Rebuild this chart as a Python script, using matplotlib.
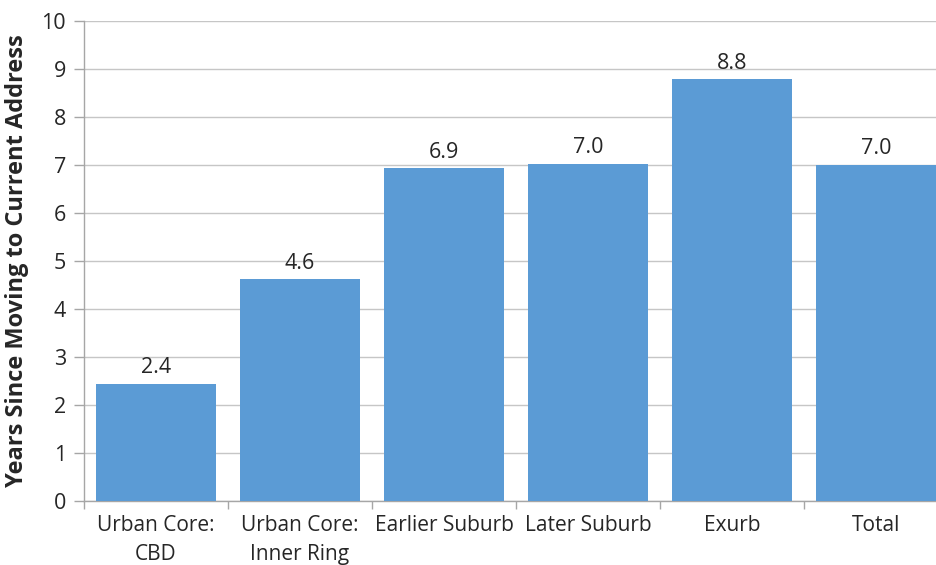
import matplotlib
matplotlib.use("Agg")
import matplotlib.pyplot as plt

categories = ["Urban Core:\nCBD", "Urban Core:\nInner Ring", "Earlier Suburb",
              "Later Suburb", "Exurb", "Total"]
values = [2.44, 4.62, 6.93, 7.03, 8.79, 7.00]
yticks = list(range(0, 11))

plt.rcParams['font.family'] = ['Open Sans', 'DejaVu Sans']
TXT = "#262626"

W, H = 936, 565
fig = plt.figure(figsize=(W / 100, H / 100), dpi=100)
ax = fig.add_axes([84 / W, 1 - 501 / H, (948 - 84) / W, (501 - 21) / H])

x = list(range(len(categories)))
bars = ax.bar(x, values, width=0.83, color="#5B9BD5", zorder=3)
for xi, v in zip(x, values):
    ax.text(xi, v + 0.22, f"{v:.1f}", ha="center", va="baseline", fontsize=15.5, color=TXT)

ax.set_xlim(-0.5, len(categories) - 0.5)
ax.set_ylim(0, 10)
ax.set_yticks(yticks)
ax.set_yticklabels([str(t) for t in yticks], fontsize=15.5, color=TXT)
ax.yaxis.grid(True, color="#c6c6c6", linewidth=1.0, zorder=0)
ax.set_axisbelow(True)

ax.set_xticks(x)
ax.set_xticklabels(categories, fontsize=15, color=TXT, linespacing=1.5)
ax.tick_params(axis="x", length=0, pad=10)
ax.set_xticks([i - 0.5 for i in range(len(categories) + 1)], minor=True)
ax.tick_params(axis="x", which="minor", length=6, color="#a6a6a6", width=1)
ax.tick_params(axis="y", length=7, color="#a6a6a6", width=1, pad=6)

for s in ["top", "right"]:
    ax.spines[s].set_visible(False)
for s in ["left", "bottom"]:
    ax.spines[s].set_color("#a6a6a6")
    ax.spines[s].set_linewidth(1)

ax.set_ylabel("Years Since Moving to Current Address", fontsize=17, fontweight="bold",
              color=TXT)
ax.yaxis.set_label_coords((29 - 84) / 864, 0.5)

fig.savefig("out.png", dpi=100)
